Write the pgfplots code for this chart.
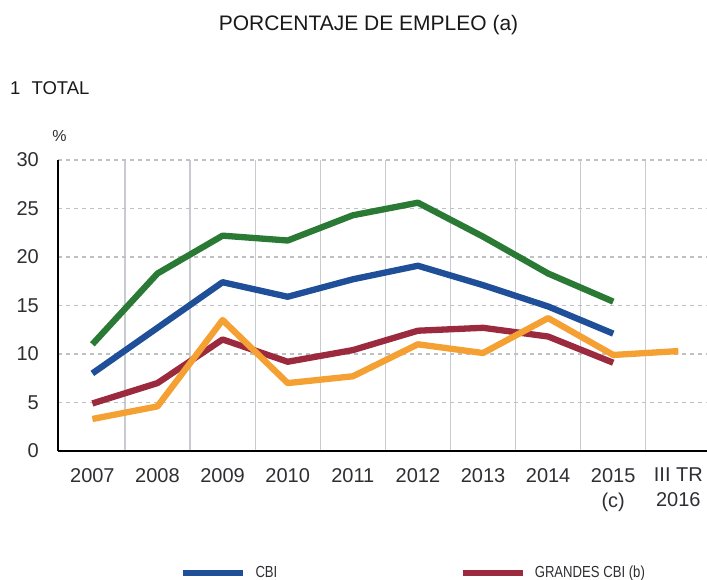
\documentclass[border=0pt]{standalone}
\usepackage{fontspec}
\setmainfont{Liberation Sans}
\newfontfamily\legfont{Liberation Sans}[FakeStretch=0.82]
\usepackage{pgfplots}
\pgfplotsset{compat=1.18}
\definecolor{cgreen}{HTML}{2A7A36}
\definecolor{cblue}{HTML}{1E4F98}
\definecolor{cred}{HTML}{9C2A3E}
\definecolor{corange}{HTML}{F5A032}
\definecolor{txt}{HTML}{2E2E33}
\definecolor{vgrid}{HTML}{C8CBD0}
\definecolor{hgrid}{HTML}{B0B0B0}
\begin{document}
\begin{tikzpicture}[x=1pt,y=1pt]
\path[use as bounding box] (0,0) rectangle (707,580);
\node[anchor=base, inner sep=0pt, font=\fontsize{21}{24}\selectfont, text=black!90] at (368.5,549) {PORCENTAJE DE EMPLEO (a)};
\node[anchor=west, inner sep=0pt, font=\fontsize{18.5}{20}\selectfont, text=black!90] at (10,491.5) {1\hspace{0.6em}TOTAL};
\node[inner sep=0pt, font=\fontsize{16}{18}\selectfont, text=txt] at (59.5,444) {\%};
\begin{axis}[
  at={(58pt,129pt)}, anchor=south west,
  scale only axis, width=649pt, height=291pt,
  xmin=-0.528, xmax=9.44, ymin=0, ymax=30,
  axis x line*=bottom, axis y line*=left,
  axis line style={-, line width=2pt, black},
  xtick={0,...,9},
  xticklabels={2007,2008,2009,2010,2011,2012,2013,2014,{2015\\(c)},{III TR\\2016}},
  minor xtick={0.5,1.5,...,8.5},
  ytick={0,5,...,30},
  xmajorgrids=false, xminorgrids=true, ymajorgrids=true,
  minor grid style={solid, vgrid, line width=1.2pt},
  major grid style={vgrid!60!hgrid, line width=1.2pt, dash pattern=on 4pt off 4pt},
  major tick length=0pt, minor tick length=0pt,
  tick label style={font=\fontsize{20}{25}\selectfont, text=txt},
  /pgf/number format/assume math mode=true,
  yticklabel style={anchor=east, inner sep=0pt, xshift=-19pt},
  xticklabel style={anchor=north, inner sep=0pt, yshift=-17pt, align=center},
  every axis plot/.append style={line width=6.3pt, line join=round, no marks},
  legend columns=2,
  legend cell align=left,
  legend style={at={(0.1880,-0.419)}, anchor=west, draw=none, fill=none, inner sep=0pt,
    font=\legfont\fontsize{16}{18}\selectfont, text=txt, nodes={inner sep=0pt},
    /tikz/every odd column/.append style={column sep=9pt}},
  legend image code/.code={\draw[#1] (0pt,0pt) -- (60pt,0pt);},
]
\addplot[cgreen, forget plot] coordinates {(0,11.0)(1,18.3)(2,22.2)(3,21.7)(4,24.3)(5,25.6)(6,22.1)(7,18.3)(8,15.4)};
\addplot[cblue] coordinates {(0,8.0)(1,12.7)(2,17.4)(3,15.9)(4,17.7)(5,19.1)(6,17.1)(7,14.9)(8,12.1)};
\addlegendentry{\makebox[204pt][l]{CBI}}
\addplot[cred] coordinates {(0,4.9)(1,7.0)(2,11.5)(3,9.2)(4,10.4)(5,12.4)(6,12.7)(7,11.8)(8,9.1)};
\addlegendentry{GRANDES CBI (b)}
\addplot[corange, forget plot] coordinates {(0,3.3)(1,4.6)(2,13.5)(3,7.0)(4,7.7)(5,11.0)(6,10.1)(7,13.7)(8,9.9)(9,10.3)};
\end{axis}
\end{tikzpicture}
\end{document}
